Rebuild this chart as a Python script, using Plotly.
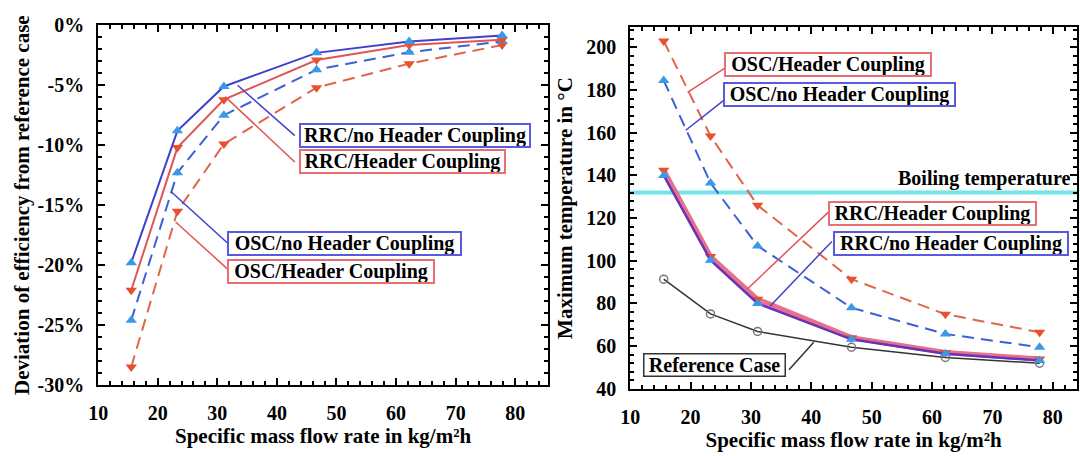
import plotly.graph_objects as go

# ---------------- data ----------------
flow = [15.55, 23.3, 31.1, 46.65, 62.2, 77.8]

# left panel: deviation of efficiency from reference case (%)
dev_rrc_no = [-19.8, -8.8, -5.1, -2.3, -1.35, -0.85]
dev_rrc_hc = [-22.1, -10.2, -6.2, -2.9, -1.65, -1.2]
dev_osc_no = [-24.6, -12.3, -7.5, -3.7, -2.25, -1.35]
dev_osc_hc = [-28.5, -15.5, -9.9, -5.2, -3.2, -1.65]

# right panel: maximum temperature (°C)
t_osc_hc = [203, 158.5, 126, 91.4, 75, 66.5]
t_osc_no = [184.5, 136.5, 107, 78, 65.7, 59.5]
t_rrc_hc = [142.5, 102, 82, 64, 57, 54]
t_rrc_no = [140, 100.3, 80, 63.2, 56.5, 53.3]
t_ref = [91.4, 75.1, 66.9, 59.5, 54.7, 52]
boiling_temp = 132

left_yticks = [0, -5, -10, -15, -20, -25, -30]
left_yticklabels = ["0%", "-5%", "-10%", "-15%", "-20%", "-25%", "-30%"]
x_ticks = [10, 20, 30, 40, 50, 60, 70, 80]
right_yticks = [40, 60, 80, 100, 120, 140, 160, 180, 200]

# ---------------- styles ----------------
FONT = "Liberation Serif"
BLUE_L = "#4040cc"
RED_L = "#e05555"
BLUE_D = "#3a62d6"
RED_D = "#e0654a"
BLUE_M = "#3a98e8"
RED_M = "#e8502e"

fig = go.Figure()

def add(x, y, xa, ya, color, mcolor, dash, symbol, width=2, msize=10, name=""):
    fig.add_trace(go.Scatter(
        x=x, y=y, xaxis=xa, yaxis=ya, mode="lines+markers", name=name,
        line=dict(color=color, width=width, dash=dash),
        marker=dict(symbol=symbol, size=msize, color=mcolor),
        showlegend=False))

# left
add(flow, dev_osc_hc, "x", "y", RED_D, RED_M, "12px,7px", "triangle-down", name="OSC/Header Coupling")
add(flow, dev_osc_no, "x", "y", BLUE_D, BLUE_M, "12px,7px", "triangle-up", name="OSC/no Header Coupling")
add(flow, dev_rrc_hc, "x", "y", RED_L, RED_M, "solid", "triangle-down", name="RRC/Header Coupling")
add(flow, dev_rrc_no, "x", "y", BLUE_L, BLUE_M, "solid", "triangle-up", name="RRC/no Header Coupling")

# right
fig.add_trace(go.Scatter(x=[10, 85], y=[boiling_temp, boiling_temp], xaxis="x2", yaxis="y2",
                         mode="lines", line=dict(color="#70e4ea", width=4), showlegend=False,
                         name="Boiling temperature"))
add(flow, t_ref, "x2", "y2", "#333333", "white", "solid", "circle-open", width=1.5, msize=8, name="Reference Case")
fig.data[-1].marker.color = "#777777"
fig.data[-1].marker.line = dict(width=1.5, color="#777777")
add(flow, t_osc_hc, "x2", "y2", RED_D, RED_M, "12px,7px", "triangle-down", name="OSC/Header Coupling")
add(flow, t_osc_no, "x2", "y2", BLUE_D, BLUE_M, "12px,7px", "triangle-up", name="OSC/no Header Coupling")
add(flow, t_rrc_hc, "x2", "y2", "#e8708a", RED_M, "solid", "triangle-down", width=5, name="RRC/Header Coupling")
add(flow, t_rrc_no, "x2", "y2", "#6a32b8", BLUE_M, "solid", "triangle-up", width=2.5, name="RRC/no Header Coupling")

W, H = 1080, 456
tickfont = dict(family=FONT, size=20, color="black", weight="bold")
titlefont = dict(family=FONT, size=21, color="black", weight="bold")

axis_common = dict(showline=True, linecolor="black", linewidth=2, mirror="allticks",
                   ticks="inside", ticklen=7, tickwidth=1.5, tickcolor="black",
                   showgrid=False, zeroline=False, tickfont=tickfont)

fig.update_layout(
    width=W, height=H, margin=dict(l=0, r=0, t=0, b=0),
    paper_bgcolor="white", plot_bgcolor="white",
    xaxis=dict(domain=[89 / W, 543 / W], range=[10, 85.5], anchor="y",
               tickvals=x_ticks, ticklabelstandoff=9,
               minor=dict(dtick=2, ticklen=4, ticks="inside", tickcolor="black"),
               title=dict(text="Specific mass flow rate in kg/m²h", font=titlefont, standoff=4),
               **axis_common),
    yaxis=dict(domain=[1 - 393 / H, 1 - 15 / H], range=[-30, 0], anchor="x",
               tickvals=left_yticks, ticktext=left_yticklabels, ticklabelstandoff=8,
               minor=dict(dtick=1, ticklen=4, ticks="inside", tickcolor="black"),
               title=dict(text="Deviation of efficiency from reference case", font=titlefont, standoff=2),
               **axis_common),
    xaxis2=dict(domain=[626 / W, 1077 / W], range=[10, 84], anchor="y2",
                tickvals=x_ticks, ticklabelstandoff=9,
                minor=dict(dtick=2, ticklen=4, ticks="inside", tickcolor="black"),
                title=dict(text="Specific mass flow rate in kg/m²h", font=titlefont, standoff=4),
                **axis_common),
    yaxis2=dict(domain=[1 - 397 / H, 1 - 17 / H], range=[40, 209.5], anchor="x2",
                tickvals=right_yticks, ticklabelstandoff=8,
                minor=dict(dtick=4, ticklen=4, ticks="inside", tickcolor="black"),
                title=dict(text="Maximum temperature in °C", font=titlefont, standoff=8),
                **axis_common),
)

# ---------------- annotations ----------------
afont = dict(family=FONT, size=20, color="black", weight="bold")

def label(text, x, y, xr, yr, border, w, h=21, bw=2):
    fig.add_annotation(text=text, x=x, y=y, xref=xr, yref=yr, showarrow=False,
                       font=afont, bgcolor="white", bordercolor=border, borderwidth=bw,
                       borderpad=0, width=w, height=h, align="center")

def leader(x0, y0, x1, y1, xr, yr, color):
    fig.add_shape(type="line", x0=x0, y0=y0, x1=x1, y1=y1, xref=xr, yref=yr,
                  line=dict(color=color, width=1.5))

# left panel
leader(33.4, -5.0, 43.0, -9.2, "x", "y", BLUE_L)
leader(31.3, -5.95, 43.0, -11.4, "x", "y", RED_L)
leader(22.3, -13.9, 31.8, -18.2, "x", "y", BLUE_L)
leader(23.0, -16.4, 32.1, -20.5, "x", "y", RED_L)
label("RRC/no Header Coupling", 63.2, -9.2, "x", "y", "#5a5ae0", 228)
label("RRC/Header Coupling", 61.1, -11.4, "x", "y", "#e87070", 203)
label("OSC/no Header Coupling", 51.3, -18.2, "x", "y", "#5a5ae0", 231)
label("OSC/Header Coupling", 49.1, -20.5, "x", "y", "#e87070", 204)

# right panel
leader(19.5, 179.0, 25.6, 190.2, "x2", "y2", RED_L)
leader(19.2, 161.2, 25.8, 175.9, "x2", "y2", BLUE_L)
leader(29.4, 86.8, 43.0, 123.3, "x2", "y2", RED_L)
leader(33.2, 78.8, 43.4, 109.1, "x2", "y2", BLUE_L)
leader(36.3, 48.9, 40.4, 61.8, "x2", "y2", "#333333")
label("OSC/Header Coupling", 42.7, 192.0, "x2", "y2", "#e87070", 204)
label("OSC/no Header Coupling", 44.7, 178.1, "x2", "y2", "#5a5ae0", 229)
label("RRC/Header Coupling", 60.1, 122.0, "x2", "y2", "#e87070", 205)
label("RRC/no Header Coupling", 63.1, 108.2, "x2", "y2", "#5a5ae0", 232)
label("Reference Case", 24.0, 51.0, "x2", "y2", "#333333", 140, bw=1.5)
fig.add_annotation(text="Boiling temperature", x=83.4, y=138.5, xref="x2", yref="y2",
                   xanchor="right", showarrow=False, font=afont)

fig.write_html("out.html")
